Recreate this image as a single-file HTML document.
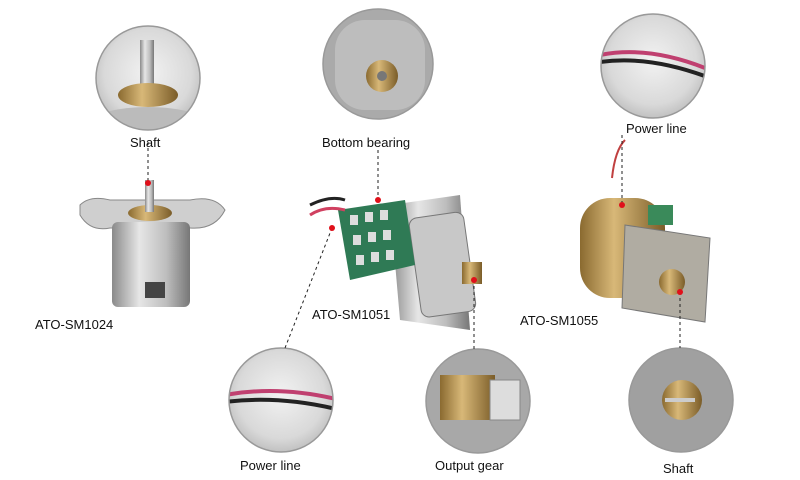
<!DOCTYPE html>
<html><head><meta charset="utf-8"><style>
body{margin:0;width:800px;height:480px;background:#fff;position:relative;overflow:hidden;font-family:"Liberation Sans",sans-serif}
.t{position:absolute;font-size:13px;color:#111;white-space:nowrap}
</style></head><body>
<svg width="800" height="480" style="position:absolute;left:0;top:0">
<defs>
<radialGradient id="cg" cx="50%" cy="45%" r="60%"><stop offset="0" stop-color="#f2f2f2"/><stop offset="0.7" stop-color="#d9d9d9"/><stop offset="1" stop-color="#b8b8b8"/></radialGradient>
<linearGradient id="met" x1="0" x2="1"><stop offset="0" stop-color="#8a8a8a"/><stop offset="0.35" stop-color="#e6e6e6"/><stop offset="0.7" stop-color="#bdbdbd"/><stop offset="1" stop-color="#777"/></linearGradient>
<linearGradient id="br" x1="0" x2="1"><stop offset="0" stop-color="#8a6a30"/><stop offset="0.4" stop-color="#d8b878"/><stop offset="1" stop-color="#7a5c28"/></linearGradient>
<clipPath id="c1"><circle cx="148" cy="78" r="52"/></clipPath>
<clipPath id="c2"><circle cx="378" cy="64" r="55"/></clipPath>
<clipPath id="c3"><circle cx="653" cy="66" r="52"/></clipPath>
<clipPath id="c4"><circle cx="281" cy="400" r="52"/></clipPath>
<clipPath id="c5"><circle cx="478" cy="401" r="52"/></clipPath>
<clipPath id="c6"><circle cx="681" cy="400" r="52"/></clipPath>
</defs>
<circle cx="148" cy="78" r="52" fill="url(#cg)"/>
<circle cx="378" cy="64" r="55" fill="url(#cg)"/>
<circle cx="653" cy="66" r="52" fill="url(#cg)"/>
<circle cx="281" cy="400" r="52" fill="url(#cg)"/>
<circle cx="478" cy="401" r="52" fill="url(#cg)"/>
<circle cx="681" cy="400" r="52" fill="url(#cg)"/>
<g clip-path="url(#c1)">
<ellipse cx="148" cy="125" rx="60" ry="18" fill="#bbb"/>
<rect x="140" y="40" width="14" height="50" fill="url(#met)"/>
<ellipse cx="148" cy="95" rx="30" ry="12" fill="url(#br)"/>
</g>
<g clip-path="url(#c2)">
<rect x="320" y="5" width="116" height="120" fill="#aaa"/>
<rect x="335" y="20" width="90" height="90" rx="30" fill="#bdbdbd"/>
<circle cx="382" cy="76" r="16" fill="url(#br)"/><circle cx="382" cy="76" r="5" fill="#777"/>
</g>
<g clip-path="url(#c3)">
<path d="M600 55 Q650 45 710 70" stroke="#c04070" stroke-width="4" fill="none"/>
<path d="M600 62 Q650 55 710 78" stroke="#222" stroke-width="4" fill="none"/>
</g>
<g clip-path="url(#c4)">
<path d="M225 395 Q280 385 340 400" stroke="#c04070" stroke-width="4" fill="none"/>
<path d="M225 402 Q280 395 340 410" stroke="#222" stroke-width="4" fill="none"/>
</g>
<g clip-path="url(#c5)">
<rect x="420" y="340" width="120" height="120" fill="#a8a8a8"/>
<rect x="440" y="375" width="55" height="45" fill="url(#br)"/>
<rect x="490" y="380" width="30" height="40" fill="#ddd" stroke="#888"/>
</g>
<g clip-path="url(#c6)">
<rect x="625" y="345" width="115" height="115" fill="#a0a0a0"/>
<circle cx="682" cy="400" r="20" fill="url(#br)"/>
<rect x="665" y="398" width="30" height="4" fill="#ccc"/>
</g>
<g stroke="#999" stroke-width="1.5" fill="none">
<circle cx="148" cy="78" r="52"/>
<circle cx="378" cy="64" r="55"/>
<circle cx="653" cy="66" r="52"/>
<circle cx="281" cy="400" r="52"/>
<circle cx="478" cy="401" r="52"/>
<circle cx="681" cy="400" r="52"/>
</g>
<!-- motor 1 -->
<path d="M80 205 Q90 195 110 200 L190 200 Q215 195 225 210 Q215 230 190 228 L110 228 Q90 232 80 215Z" fill="#cfcfcf" stroke="#888"/>
<rect x="112" y="222" width="78" height="85" rx="6" fill="url(#met)"/>
<ellipse cx="150" cy="213" rx="22" ry="8" fill="url(#br)"/>
<rect x="145" y="180" width="9" height="32" fill="url(#met)"/>
<rect x="145" y="282" width="20" height="16" fill="#444"/>
<!-- motor 2 -->
<path d="M390 205 L460 195 L470 330 L400 320Z" fill="url(#met)"/>
<rect x="415" y="215" width="55" height="100" rx="8" fill="#c8c8c8" stroke="#777" transform="rotate(-8 440 265)"/>
<path d="M338 210 L405 200 L415 265 L350 280Z" fill="#2f7a55"/>
<g fill="#ddd"><rect x="350" y="215" width="8" height="10"/><rect x="365" y="212" width="8" height="10"/><rect x="380" y="210" width="8" height="10"/><rect x="353" y="235" width="8" height="10"/><rect x="368" y="232" width="8" height="10"/><rect x="383" y="230" width="8" height="10"/><rect x="356" y="255" width="8" height="10"/><rect x="371" y="252" width="8" height="10"/><rect x="386" y="250" width="8" height="10"/></g>
<path d="M310 215 Q325 205 345 210" stroke="#d04060" stroke-width="3" fill="none"/>
<path d="M310 205 Q330 195 345 200" stroke="#222" stroke-width="3" fill="none"/>
<rect x="462" y="262" width="20" height="22" fill="url(#br)"/>
<!-- motor 3 -->
<path d="M612 178 Q615 150 625 140" stroke="#c04040" stroke-width="2" fill="none"/>
<rect x="580" y="198" width="85" height="100" rx="30" fill="url(#br)"/>
<path d="M625 225 L710 238 L705 322 L622 308Z" fill="#b0aca2" stroke="#777"/>
<rect x="648" y="205" width="25" height="20" fill="#3a8a5a"/>
<circle cx="672" cy="282" r="13" fill="url(#br)"/>
<g stroke="#222" stroke-dasharray="3,3" stroke-width="1" fill="none">
<line x1="148" y1="142" x2="148" y2="183"/>
<line x1="378" y1="150" x2="378" y2="200"/>
<line x1="622" y1="135" x2="622" y2="205"/>
<line x1="285" y1="348" x2="332" y2="228"/>
<line x1="474" y1="280" x2="474" y2="349"/>
<line x1="680" y1="292" x2="680" y2="348"/>
</g>
<g fill="#e0101a">
<circle cx="148" cy="183" r="3"/><circle cx="378" cy="200" r="3"/><circle cx="622" cy="205" r="3"/>
<circle cx="332" cy="228" r="3"/><circle cx="474" cy="280" r="3"/><circle cx="680" cy="292" r="3"/>
</g>
</svg>
<div class="t" style="left:130px;top:135px">Shaft</div>
<div class="t" style="left:322px;top:135px">Bottom bearing</div>
<div class="t" style="left:626px;top:121px">Power line</div>
<div class="t" style="left:35px;top:317px">ATO-SM1024</div>
<div class="t" style="left:312px;top:307px">ATO-SM1051</div>
<div class="t" style="left:520px;top:313px">ATO-SM1055</div>
<div class="t" style="left:240px;top:458px">Power line</div>
<div class="t" style="left:435px;top:458px">Output gear</div>
<div class="t" style="left:663px;top:461px">Shaft</div>
</body></html>
